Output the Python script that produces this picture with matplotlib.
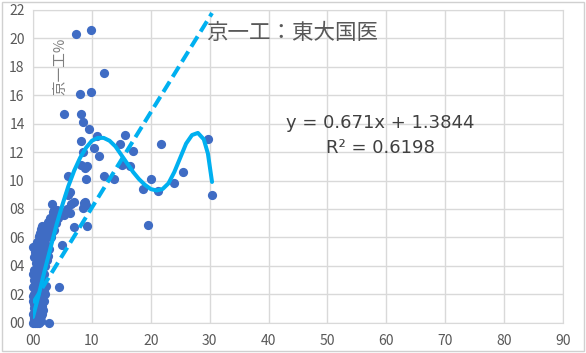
import numpy as np
import matplotlib.pyplot as plt
from matplotlib.patches import Rectangle

plt.rcParams['font.family'] = ['Noto Sans CJK JP', 'DejaVu Sans']

# scatter points (dense cluster near the origin first)
xs = [0.0, 0.3, 0.6, 1.0, 1.4, 0.2, 0.6, 1.1, 0.0, 0.4, 0.9, 1.5, 0.1, 0.5, 1.0, 1.6,
      0.0, 0.3, 0.8, 1.3, 0.1, 0.6, 1.1, 1.8, 0.0, 0.4, 0.9, 1.5, 2.2, 0.2, 0.7, 1.2,
      0.0, 0.5, 1.8, 0.3, 0.8, 1.4, 2.0, 0.5, 1.1, 1.7, 2.3, 0.2, 0.9, 1.5, 2.6,
      0.0, 0.4, 0.8, 1.2, 1.7, 2.2, 2.8, 1.0, 1.5, 2.0, 2.6, 3.1, 1.2, 1.8, 2.4,
      3.0, 3.5, 1.6, 2.2, 2.9, 3.3, 3.7, 4.2, 3.5, 3.2, 4.5, 5.3, 5.8, 6.2,
      0.1, 0.5, 0.9, 1.3, 1.7, 0.2, 0.7, 1.2, 1.9, 0.0, 0.4, 0.8, 1.4, 2.0,
      0.3, 0.7, 1.1, 1.6, 0.1, 0.5, 1.0, 1.5, 2.1, 0.3, 0.8, 1.3, 1.9, 0.6,
      1.0, 1.4, 2.4, 2.7, 3.3, 3.9, 4.1, 2.5, 2.9, 3.4,
      2.8, 4.5, 4.9, 7.0, 9.1, 6.4, 8.5, 8.7, 9.0, 7.0, 6.0, 6.2, 8.9,
      6.0, 9.0, 12.0, 13.7, 9.1, 8.1, 8.9, 15.1, 16.5, 11.2, 10.4, 8.5, 17.0,
      14.7, 21.8, 15.7, 8.2, 10.8, 9.5, 8.5, 8.1, 5.3, 7.95, 9.9, 12.0, 7.3, 9.9,
      29.8, 25.4, 20.0, 18.6, 21.2, 23.9, 30.4, 19.5]
ys = [0.0, 0.0, 0.0, 0.0, 0.1, 0.3, 0.4, 0.3, 0.6, 0.8, 0.7, 0.6, 1.0, 1.2, 1.1, 1.2,
      1.5, 1.7, 1.6, 1.8, 2.0, 2.2, 2.1, 2.3, 2.5, 2.7, 2.6, 2.8, 2.6, 3.0, 3.2, 3.1,
      3.4, 3.3, 3.4, 3.7, 3.8, 3.9, 4.0, 4.2, 4.3, 4.5, 4.4, 4.6, 4.8, 4.9, 4.7,
      5.3, 5.4, 5.2, 5.4, 5.3, 5.5, 5.2, 5.8, 6.0, 5.9, 6.1, 6.0, 6.3, 6.5, 6.4,
      6.6, 6.5, 6.8, 6.8, 6.9, 7.2, 7.5, 7.4, 7.9, 8.35, 7.8, 7.6, 8.0, 7.7,
      0.2, 0.1, 0.2, 0.5, 0.9, 1.3, 0.9, 1.4, 1.5, 1.9, 2.0, 2.4, 2.4, 2.0,
      2.9, 2.9, 2.8, 3.2, 3.7, 3.6, 4.0, 4.2, 4.7, 5.0, 5.0, 5.0, 5.6, 5.7,
      6.1, 6.6, 6.7, 6.3, 6.4, 7.0, 7.9, 7.1, 7.4, 7.8,
      0.0, 2.5, 5.5, 6.7, 6.8, 8.35, 8.1, 8.4, 8.3, 8.5, 9.0, 9.2, 8.5,
      10.3, 10.1, 10.3, 10.1, 11.0, 11.1, 10.9, 11.1, 11.0, 11.7, 12.3, 12.0, 12.1,
      12.6, 12.6, 13.2, 12.8, 13.1, 13.6, 14.1, 14.7, 14.7, 16.1, 16.2, 17.6, 20.3, 20.6,
      12.9, 10.6, 10.1, 9.4, 9.3, 9.8, 9.0, 6.9]

# polynomial trendline, values
trend_x = [0, 1, 2, 3, 4, 5, 6, 7, 8, 9, 10, 11, 12, 13, 14, 15, 16, 17, 18, 19, 20,
           21, 22, 23, 24, 25, 26, 27, 28, 29, 29.7, 30.4]
trend_y = [0.4, 2.0, 3.7, 5.3, 6.9, 8.3, 9.6, 10.7, 11.6, 12.3, 12.8, 13.0, 13.0, 12.8,
           12.4, 11.8, 11.2, 10.6, 10.1, 9.7, 9.4, 9.3, 9.4, 9.8, 10.6, 11.6, 12.6, 13.2,
           13.35, 12.9, 11.9, 9.9]

# linear trendline from the chart label
lin_coef = [0.671, 1.3844]
lin_range = [0, 30.4]

xticks = [0, 10, 20, 30, 40, 50, 60, 70, 80, 90]
yticks = [0, 2, 4, 6, 8, 10, 12, 14, 16, 18, 20, 22]

fig = plt.figure(figsize=(5.86, 3.53), dpi=100)
ax = fig.add_axes([0.0563, 0.0858, 0.9045, 0.886])

ax.scatter(xs, ys, s=44, color='#3F6CC4', zorder=3, linewidths=0, clip_on=False)
ax.plot(trend_x, trend_y, color='#00B0F0', lw=2.9, zorder=4, solid_capstyle='round')
lx = np.array(lin_range)
ax.plot(lx, np.polyval(lin_coef, lx), color='#00B0F0', lw=2.9, dashes=(3, 1.4), zorder=4)

ax.set_xlim(0, 90)
ax.set_ylim(0, 22)
ax.set_xticks(xticks)
ax.set_yticks(yticks)
ax.set_xticklabels(['%02d' % v for v in xticks])
ax.set_yticklabels(['%02d' % v for v in yticks])
ax.tick_params(length=0, labelsize=10, colors='#595959')
ax.tick_params(axis='x', pad=8)
ax.tick_params(axis='y', pad=6)
ax.grid(True, color='#d9d9d9', lw=1)
ax.set_axisbelow(True)
for s in ax.spines.values():
    s.set_color('#d9d9d9')

ax.text(206 / 586, 1 - 33 / 353, '京一工：東大国医', transform=fig.transFigure,
        fontsize=15.5, color='#595959', va='center', ha='left')
ax.text(60 / 586, 1 - 66 / 353, '京一工%', transform=fig.transFigure, rotation=90,
        fontsize=10.5, color='#7f7f7f', va='center', ha='center')
ax.text(380 / 586, 1 - 123 / 353, 'y = 0.671x + 1.3844', transform=fig.transFigure,
        fontsize=13, color='#404040', va='center', ha='center', family='DejaVu Sans')
ax.text(380 / 586, 1 - 148 / 353, 'R² = 0.6198', transform=fig.transFigure,
        fontsize=13, color='#404040', va='center', ha='center', family='DejaVu Sans')

fig.patches.append(Rectangle((2 / 586, 2 / 353), 582 / 586, 349 / 353,
                             transform=fig.transFigure, fill=False,
                             edgecolor='#d0d0d0', lw=1))

fig.savefig('out.png', dpi=100)
